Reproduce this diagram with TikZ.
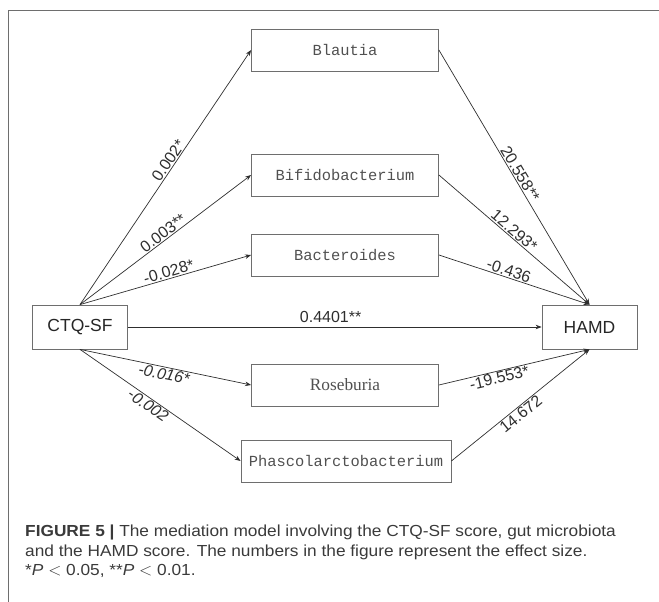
\documentclass[tikz,border=0pt]{standalone}
\usepackage{fontspec}
\setmainfont{Liberation Sans}
\newfontfamily\boxfont{Liberation Mono}
\newfontfamily\rosefont{Liberation Serif}
\newfontfamily\capfont[FakeStretch=1.08]{Liberation Sans}
\usetikzlibrary{arrows.meta}
\definecolor{framegray}{HTML}{6E6E6E}
\definecolor{linegray}{HTML}{2E2E2E}
\definecolor{textgray}{HTML}{505050}
\definecolor{capgray}{HTML}{3A3A3A}
\tikzset{
  taxon/.style={draw=framegray, line width=0.8pt, minimum width=187pt, minimum height=42pt,
    inner sep=0pt, text=textgray, font=\boxfont\fontsize{15.4}{18}\selectfont},
  measurebox/.style={draw=framegray, line width=0.8pt, minimum width=95pt, minimum height=44pt,
    inner sep=0pt, text=black!85, font=\fontsize{17.5}{20}\selectfont},
  effect/.style={font=\fontsize{16}{18}\selectfont, text=linegray, sloped, inner sep=1pt},
  effectit/.style={effect, font=\itshape\fontsize{16}{18}\selectfont},
}
\begin{document}
\begin{tikzpicture}[x=1pt, y=-1pt]
      \useasboundingbox (0,0) rectangle (659,602);
      \draw[framegray, line width=0.9pt] (8,602) -- (8,10) -- (659,10);
      \draw
        (80,327) node[measurebox] (ctq){CTQ-SF}
        (589.5,327) node[measurebox] (hamd){HAMD}
        (345,50) node[taxon] (blau){Blautia}
        (345,175) node[taxon] (bifi){Bifidobacterium}
        (345,255) node[taxon] (bact){Bacteroides}
        (345,385) node[taxon, font=\rosefont\fontsize{17.3}{20}\selectfont] (rose){Roseburia}
        (346,461) node[taxon, minimum width=210pt] (phas){Phascolarctobacterium};
      \begin{scope}[-{Stealth[length=6pt,width=4.5pt]}, linegray, line width=0.7pt]
        \draw (ctq.north) to node[effect, above, pos=0.55] {0.002*} (blau.west);
        \draw (ctq.north) to node[effect, above, pos=0.51] {0.003**} (bifi.west);
        \draw (ctq.north) to node[effect, above, pos=0.53] {-0.028*} (bact.west);
        \draw (ctq.east) to node[effect, above=3pt, pos=0.49] {0.4401**} (hamd.west);
        \draw (ctq.south) to node[effectit, below, pos=0.5] {-0.016*} (rose.west);
        \draw (ctq.south) to node[effectit, below, pos=0.45] {-0.002} (phas.west);
        \draw (blau.east) to node[effect, above, pos=0.5] {20.558**} (hamd.north);
        \draw (bifi.east) to node[effect, above, pos=0.47] {12.293*} (hamd.north);
        \draw (bact.east) to node[effect, above, pos=0.45] {-0.436} (hamd.north);
        \draw (rose.east) to node[effect, below, pos=0.39] {-19.553*} (hamd.south);
        \draw (phas.east) to node[effect, below, pos=0.47] {14.672} (hamd.south);
      \end{scope}
      \node[anchor=north west, inner sep=0pt, align=left, text=capgray,
            font=\capfont\fontsize{16}{19.3}\selectfont] (caption) at (25,525)
        {\textbf{FIGURE 5 |} The mediation model involving the CTQ-SF score, gut microbiota\\
         and the HAMD score. The numbers in the figure represent the effect size.\\
         *\textit{P} $<$ 0.05, **\textit{P} $<$ 0.01.};
    \end{tikzpicture}
\end{document}
